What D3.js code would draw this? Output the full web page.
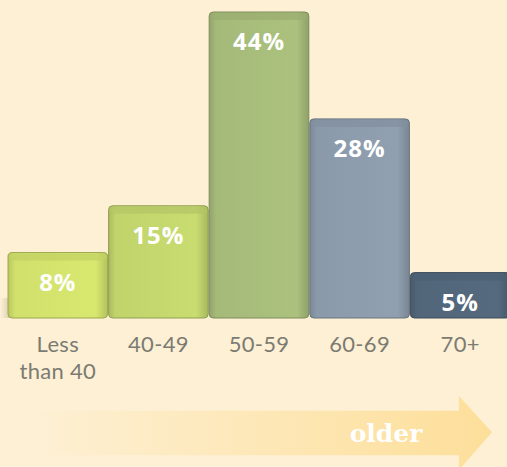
<!DOCTYPE html>
<html>
<head>
<meta charset="utf-8">
<script src="https://cdn.jsdelivr.net/npm/d3@7"></script>
<style>
  body { margin: 0; background: #fdf0d5; }
  svg { display: block; }
</style>
</head>
<body>
<script>
var categories = ["Less\nthan 40", "40-49", "50-59", "60-69", "70+"];
var values = [8, 15, 44, 28, 5];
var valueLabels = ["8%", "15%", "44%", "28%", "5%"];
var barColors = ["#d0e06b", "#c1d46c", "#a5ba79", "#8b9aaa", "#52667a"];
var arrowLabel = "older";

var width = 507, height = 467;
var margin = {top: 12, right: 0, bottom: 149, left: 8};
var baseline = height - margin.bottom;
var plinth = 12; // bars stand on a small base below the zero line

var svg = d3.select("body").append("svg")
    .attr("width", width)
    .attr("height", height);

svg.append("rect")
    .attr("width", width)
    .attr("height", height)
    .attr("fill", "#fdf0d5");

var x = d3.scaleBand()
    .domain(categories)
    .range([margin.left, margin.left + 502])
    .paddingInner(0.01)
    .paddingOuter(0);

var y = d3.scaleLinear()
    .domain([0, d3.max(values)])
    .range([baseline - plinth, margin.top]);

var defs = svg.append("defs");

// side shading on each bar
barColors.forEach(function(c, i) {
  var g = defs.append("linearGradient")
      .attr("id", "bar" + i)
      .attr("x1", "0").attr("x2", "1");
  var base = d3.color(c);
  g.append("stop").attr("offset", "0").attr("stop-color", base.darker(0.35));
  g.append("stop").attr("offset", "0.07").attr("stop-color", base);
  g.append("stop").attr("offset", "0.88").attr("stop-color", base.brighter(0.1));
  g.append("stop").attr("offset", "1").attr("stop-color", base.darker(0.4));
});

var arrowGrad = defs.append("linearGradient")
    .attr("id", "arrowGrad")
    .attr("x1", "0").attr("x2", "1");
arrowGrad.append("stop").attr("offset", "0").attr("stop-color", "#fdf0d5");
arrowGrad.append("stop").attr("offset", "1").attr("stop-color", "#fddf9a");

// soft shadow left of the first bar
var shadowGrad = defs.append("linearGradient")
    .attr("id", "shadowGrad")
    .attr("x1", "0").attr("x2", "1");
shadowGrad.append("stop").attr("offset", "0").attr("stop-color", "#d8ccb2").attr("stop-opacity", 0);
shadowGrad.append("stop").attr("offset", "1").attr("stop-color", "#cfc2a6").attr("stop-opacity", 0.8);
svg.append("rect")
    .attr("x", 0)
    .attr("y", baseline - 20)
    .attr("width", margin.left + 2)
    .attr("height", 20)
    .attr("fill", "url(#shadowGrad)");

var bars = svg.selectAll(".bar")
    .data(values)
    .enter().append("g")
    .attr("class", "bar");

bars.append("rect")
    .attr("x", function(d, i) { return x(categories[i]); })
    .attr("y", function(d) { return y(d); })
    .attr("width", x.bandwidth())
    .attr("height", function(d) { return baseline - y(d); })
    .attr("rx", 4)
    .attr("fill", function(d, i) { return "url(#bar" + i + ")"; })
    .attr("stroke", function(d, i) { return d3.color(barColors[i]).darker(0.8); })
    .attr("stroke-width", 1);

// top bevel
bars.append("rect")
    .attr("x", function(d, i) { return x(categories[i]) + 1; })
    .attr("y", function(d) { return y(d) + 1; })
    .attr("width", x.bandwidth() - 2)
    .attr("height", 7)
    .attr("rx", 3)
    .attr("fill", function(d, i) { return d3.color(barColors[i]).darker(0.2); })
    .attr("opacity", 0.7);

bars.append("text")
    .attr("x", function(d, i) { return x(categories[i]) + x.bandwidth() / 2; })
    .attr("y", function(d) { return Math.min(y(d) + 38, baseline - 6); })
    .attr("text-anchor", "middle")
    .attr("fill", "#ffffff")
    .style("font-family", "'Open Sans', 'Noto Sans', sans-serif")
    .style("font-weight", "bold")
    .style("font-size", "24px")
    .style("letter-spacing", "1px")
    .text(function(d, i) { return valueLabels[i]; });

// category labels, one text per line
var labels = svg.selectAll(".cat")
    .data(categories)
    .enter().append("g")
    .attr("class", "cat")
    .attr("transform", function(d) { return "translate(" + (x(d) + x.bandwidth() / 2) + "," + (baseline + 34) + ")"; });

labels.selectAll("text")
    .data(function(d) { return d.split("\n"); })
    .enter().append("text")
    .attr("y", function(d, i) { return i * 27; })
    .attr("text-anchor", "middle")
    .attr("fill", "#7c7b72")
    .style("font-family", "Lato, 'Open Sans', sans-serif")
    .style("font-size", "22px")
    .style("letter-spacing", "0.3px")
    .text(function(d) { return d; });

// "older" arrow along the bottom
var ax = d3.scaleLinear().domain([0, 1]).range([20, 492]);
var ay = d3.scaleLinear().domain([0, 1]).range([396, 470]);
var arrowPts = [
  [0, 0.2], [0.93, 0.2], [0.93, 0], [1, 0.49], [0.93, 1], [0.93, 0.8], [0, 0.8]
];
svg.append("path")
    .attr("d", d3.line().x(function(p) { return ax(p[0]); }).y(function(p) { return ay(p[1]); })(arrowPts) + "Z")
    .attr("fill", "url(#arrowGrad)");

svg.append("text")
    .attr("x", 386)
    .attr("y", 442)
    .attr("text-anchor", "middle")
    .attr("fill", "#ffffff")
    .style("font-family", "'DejaVu Serif', serif")
    .style("font-weight", "bold")
    .style("font-size", "25px")
    .text(arrowLabel);
</script>
</body>
</html>
